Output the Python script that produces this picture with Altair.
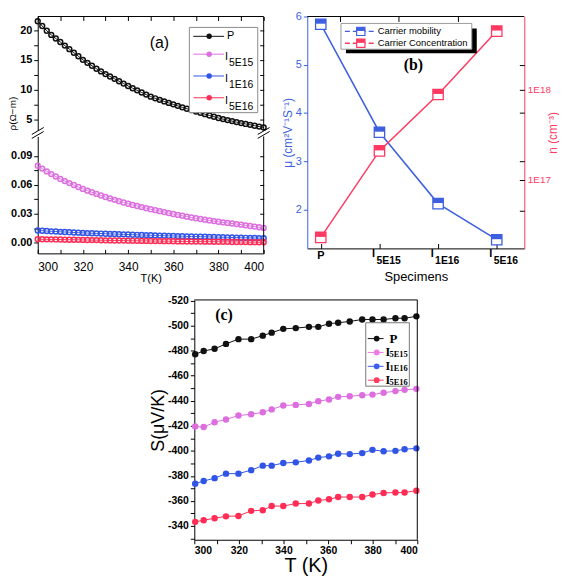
import altair as alt
import pandas as pd

# ---------------- data ----------------
# panel (a): resistivity vs temperature
T_a = list(range(300, 401, 2))
rho_P = [21.5, 20.7, 19.9, 19.2, 18.6, 18.0, 17.4, 16.8, 16.2, 15.6,
         15.0, 14.5, 14.0, 13.5, 13.05, 12.6, 12.2, 11.8, 11.4, 11.0,
         10.6, 10.22, 9.86, 9.5, 9.15, 8.8, 8.52, 8.26, 8.0, 7.75,
         7.5, 7.25, 7.0, 6.76, 6.53, 6.3, 6.07, 5.85, 5.63, 5.41,
         5.2, 5.02, 4.85, 4.68, 4.51, 4.35, 4.2, 4.05, 3.9, 3.75, 3.6]
rho_5E15 = [0.0797, 0.0767, 0.0738, 0.0710, 0.0685, 0.0660, 0.0638, 0.0617, 0.0597, 0.0577,
            0.0557, 0.0539, 0.0522, 0.0505, 0.0489, 0.0473, 0.0458, 0.0444, 0.0430, 0.0416,
            0.0403, 0.0391, 0.0380, 0.0369, 0.0358, 0.0347, 0.0337, 0.0327, 0.0317, 0.0307,
            0.0297, 0.0288, 0.0279, 0.0270, 0.0261, 0.0253, 0.0246, 0.0239, 0.0231, 0.0224,
            0.0217, 0.0211, 0.0205, 0.0199, 0.0193, 0.0187, 0.0180, 0.0173, 0.0167, 0.0160, 0.0153]
rho_1E16 = [0.0127, 0.0124, 0.0121, 0.0118, 0.0116, 0.0113, 0.0111, 0.0109, 0.0106, 0.0104,
            0.0102, 0.0100, 0.0098, 0.0097, 0.0095, 0.0093, 0.0091, 0.0090, 0.0088, 0.0087,
            0.0085, 0.0083, 0.0082, 0.0080, 0.0079, 0.0077, 0.0076, 0.0074, 0.0073, 0.0071,
            0.0070, 0.0069, 0.0068, 0.0066, 0.0065, 0.0064, 0.0063, 0.0062, 0.0060, 0.0059,
            0.0058, 0.0057, 0.0056, 0.0054, 0.0053, 0.0052, 0.0051, 0.0050, 0.0049, 0.0048, 0.0047]
rho_5E16 = [0.0037, 0.0036, 0.0035, 0.0035, 0.0034, 0.0033, 0.0032, 0.0031, 0.0031, 0.0030,
            0.0029, 0.0028, 0.0027, 0.0027, 0.0026, 0.0025, 0.0024, 0.0023, 0.0023, 0.0022,
            0.0021, 0.0020, 0.0020, 0.0019, 0.0019, 0.0018, 0.0017, 0.0017, 0.0016, 0.0016,
            0.0015, 0.0014, 0.0014, 0.0013, 0.0013, 0.0012, 0.0012, 0.0011, 0.0011, 0.0010,
            0.0010, 0.0009, 0.0009, 0.0008, 0.0008, 0.0007, 0.0007, 0.0006, 0.0006, 0.0005, 0.0005]

# panel (b): mobility and carrier concentration per specimen
spec_idx = [0, 1, 2, 3]
spec_main = ["P", "I", "I", "I"]
spec_sub = ["", "5E15", "1E16", "5E16"]
mobility = [5.84, 3.60, 2.12, 1.37]
concentration = [2.3e16, 2.1e17, 8.9e17, 4.5e18]

# panel (c): Seebeck coefficient vs temperature
T_c = [300.4, 304.2, 309.1, 314.2, 319.8, 325.5, 330.7, 334.7, 339.9, 345.5, 351.4,
       355.6, 360.4, 364.5, 369.7, 375.3, 379.9, 384.9, 390.2, 394.3, 399.6]
S_P = [-477.2, -479.7, -481.5, -485.4, -489.2, -489.2, -492.0, -494.4, -497.4, -498.0, -499.0,
       -499.0, -501.5, -502.3, -503.3, -504.9, -504.9, -504.9, -505.9, -505.9, -507.4]
S_5E15 = [-419.5, -419.0, -422.8, -425.1, -428.2, -429.2, -430.8, -433.1, -436.2, -436.7, -437.4,
          -439.7, -441.0, -443.1, -443.6, -444.4, -444.9, -446.4, -447.7, -448.7, -449.5]
S_1E16 = [-373.8, -375.9, -378.2, -381.8, -381.8, -384.6, -388.2, -388.2, -390.3, -390.8, -392.3,
          -394.6, -395.6, -397.7, -397.4, -398.2, -400.8, -399.7, -400.0, -401.3, -402.0]
S_5E16 = [-343.3, -344.6, -346.2, -347.7, -348.0, -352.1, -352.6, -355.9, -355.9, -357.9, -357.9,
          -360.3, -361.3, -363.1, -363.1, -363.1, -365.1, -366.4, -366.7, -366.7, -368.2]

series_names = ["P", "I5E15", "I1E16", "I5E16"]

# ---------------- style ----------------
FONT = "Liberation Sans"
SERIF = "Liberation Serif"
A_COLORS = ["#111111", "#dd6ee0", "#3055e6", "#ff2d55"]
B_BLUE = "#3d5fe0"
B_RED = "#ff3a62"
C_COLORS = ["#111111", "#ee7ae6", "#3d5ef2", "#ff3c5d"]

one = pd.DataFrame({"d": [0]})


def rule(x, y, x2, y2, color="black", sw=1.0, dash=None, opacity=1):
    kw = dict(color=color, strokeWidth=sw, opacity=opacity)
    if dash:
        kw["strokeDash"] = dash
    return alt.Chart(one).mark_rule(**kw).encode(
        x=alt.value(x), y=alt.value(y), x2=alt.value(x2), y2=alt.value(y2))


def rect(x, y, x2, y2, fill, stroke=None, sw=1.0):
    kw = dict(fill=fill, opacity=1)
    if stroke:
        kw.update(stroke=stroke, strokeWidth=sw)
    return alt.Chart(one).mark_rect(**kw).encode(
        x=alt.value(x), y=alt.value(y), x2=alt.value(x2), y2=alt.value(y2))


def text(x, y, s, size=11, font=FONT, weight="normal", color="black",
         align="left", baseline="middle", angle=0):
    kw = dict(text=s, fontSize=size, font=font, fontWeight=weight, color=color,
              align=align, baseline=baseline)
    if angle:
        kw["angle"] = angle
    return alt.Chart(one).mark_text(**kw).encode(x=alt.value(x), y=alt.value(y))


def dot(x, y, color, size=30, filled=True, shape="circle", sw=1.0):
    return alt.Chart(one).mark_point(shape=shape, filled=filled, color=color, size=size,
                                     opacity=1, strokeWidth=sw).encode(
        x=alt.value(x), y=alt.value(y))


HALF = "M -1 -1 L 1 -1 L 1 -0.1 L -1 -0.1 Z"

# ================= panel (a) =================
W_A, H_AU, H_AL = 228, 115, 118
sx_a = alt.Scale(domain=[300, 400], nice=False, zero=False)
sy_au = alt.Scale(domain=[3.1, 22.3], nice=False, zero=False)
sy_al = alt.Scale(domain=[-0.011, 0.11], nice=False, zero=False)

df_au = pd.DataFrame({"T": T_a, "rho": rho_P})
df_al = pd.DataFrame({
    "T": T_a * 3,
    "rho": rho_5E15 + rho_1E16 + rho_5E16,
    "s": ["I5E15"] * len(T_a) + ["I1E16"] * len(T_a) + ["I5E16"] * len(T_a),
})
col_a = alt.Color("s:N", scale=alt.Scale(domain=series_names, range=A_COLORS), legend=None)

up_line = alt.Chart(df_au).mark_line(color=A_COLORS[0], strokeWidth=1).encode(
    x=alt.X("T:Q", scale=sx_a, axis=None),
    y=alt.Y("rho:Q", scale=sy_au, axis=alt.Axis(
        orient="left", values=[5, 7.5, 10, 12.5, 15, 17.5, 20], tickSize=4,
        labelExpr="datum.value % 5 == 0 ? '' + datum.value : ''",
        labelFontWeight="bold", labelFontSize=11, labelPadding=2, title=None)))
up_pts = alt.Chart(df_au).mark_point(color=A_COLORS[0], filled=False, size=24,
                                     strokeWidth=1.5, opacity=1).encode(
    x=alt.X("T:Q", scale=sx_a, axis=None),
    y=alt.Y("rho:Q", scale=sy_au, axis=None))
up_ticks = alt.Chart(df_au).mark_point(opacity=0).encode(
    x=alt.X("T:Q", scale=sx_a, axis=alt.Axis(
        orient="top", offset=-4, tickSize=4, values=list(range(300, 401, 10)),
        labels=False, domain=False, title=None)),
    y=alt.Y("rho:Q", scale=sy_au, axis=alt.Axis(
        orient="right", offset=-4, tickSize=4, values=[5, 7.5, 10, 12.5, 15, 17.5, 20],
        labels=False, domain=False, title=None)))

leg_a = [rect(153, 11, 222, 97, "white", "#8a8a8a", 1)]
rows_a = [20, 38, 60, 82]
for i, yy in enumerate(rows_a):
    leg_a.append(rule(157, yy, 188, yy, A_COLORS[i], 1))
    leg_a.append(dot(173, yy, A_COLORS[i], size=30))
leg_a.append(text(191, 20, "P", size=11))
for i, sub in zip([1, 2, 3], ["5E15", "1E16", "5E16"]):
    leg_a.append(text(189, rows_a[i] + 3, "I", size=11))
    leg_a.append(text(193, rows_a[i] + 9, sub, size=10.5))

a_up = alt.layer(
    up_line, up_pts, up_ticks,
    rule(0, 0, W_A, 0), rule(W_A, 0, W_A, H_AU),
    rule(0, -6, 2, -6, "white", 1, opacity=0),
    *leg_a,
    text(113, 27, "(a)", size=16),
    text(-25, 98, "ρ(Ω−m)", size=10, angle=270, align="center"),
).resolve_axis(x="independent", y="independent").properties(width=W_A, height=H_AU)

lo_line = alt.Chart(df_al).mark_line(strokeWidth=1).encode(
    x=alt.X("T:Q", scale=sx_a, axis=alt.Axis(
        orient="bottom", values=list(range(300, 401, 20)), ticks=False,
        labelFontSize=12, labelPadding=8, title="T(K)", titleFontSize=11,
        titleFontWeight="normal", titlePadding=0)),
    y=alt.Y("rho:Q", scale=sy_al, axis=alt.Axis(
        orient="left", values=[0, 0.015, 0.03, 0.045, 0.06, 0.075, 0.09], tickSize=4,
        labelExpr="indexof(['0','0.03','0.06','0.09'], '' + datum.value) >= 0 ? format(datum.value, '.2f') : ''",
        labelFontWeight="bold", labelFontSize=11, labelPadding=2, title=None)),
    color=col_a, detail="s:N")
lo_pts = alt.Chart(df_al).mark_point(filled=False, size=24, strokeWidth=1.5, opacity=1).encode(
    x=alt.X("T:Q", scale=sx_a, axis=None),
    y=alt.Y("rho:Q", scale=sy_al, axis=None),
    color=col_a)
lo_ticks = alt.Chart(df_al).mark_point(opacity=0).encode(
    x=alt.X("T:Q", scale=sx_a, axis=alt.Axis(
        orient="bottom", offset=-4, tickSize=4, values=list(range(300, 401, 10)),
        labels=False, domain=False, title=None)),
    y=alt.Y("rho:Q", scale=sy_al, axis=alt.Axis(
        orient="right", offset=-4, tickSize=4, values=[0, 0.015, 0.03, 0.045, 0.06, 0.075, 0.09],
        labels=False, domain=False, title=None)))

a_low = alt.layer(
    lo_line, lo_pts, lo_ticks,
    rule(W_A, 0, W_A, H_AL),
    rule(-6, 2, 6, -5), rule(-6, -2, 6, -9),
    rule(W_A - 6, 2, W_A + 6, -5), rule(W_A - 6, -2, W_A + 6, -9),
).resolve_axis(x="independent", y="independent").properties(width=W_A, height=H_AL)

panel_a = alt.vconcat(a_up, a_low, spacing=6, bounds="flush")

# ================= panel (b) =================
W_B, H_B = 219, 234
sx_b = alt.Scale(domain=[-0.23, 3.47], nice=False, zero=False)
sy_mu = alt.Scale(domain=[1.19, 6.0], nice=False, zero=False)
sy_n = alt.Scale(type="log", domain=[10 ** 16.24, 10 ** 18.815], nice=False)
df_b = pd.DataFrame({"idx": spec_idx, "mu": mobility, "n": concentration,
                     "main": spec_main, "sub": spec_sub})

b_mu_line = alt.Chart(df_b).mark_line(color=B_BLUE, strokeWidth=1.5).encode(
    x=alt.X("idx:Q", scale=sx_b, axis=alt.Axis(
        orient="bottom", values=[0, 1, 2, 3], ticks=False, labels=False,
        title="Specimens", titleFontSize=13, titleFontWeight="normal", titlePadding=22)),
    y=alt.Y("mu:Q", scale=sy_mu, axis=alt.Axis(
        orient="left", values=[2, 3, 4, 5, 6], tickSize=4, labelFontSize=11,
        labelColor=B_BLUE, tickColor=B_BLUE, domainColor=B_BLUE, labelPadding=2,
        title="μ (cm²V⁻¹S⁻¹)", titleColor=B_BLUE, titleFontSize=12,
        titleFontWeight="normal", titlePadding=1)))
b_mu_sq = alt.Chart(df_b).mark_square(fill="white", stroke=B_BLUE, strokeWidth=1.3,
                                      size=110, opacity=1).encode(
    x=alt.X("idx:Q", scale=sx_b, axis=None), y=alt.Y("mu:Q", scale=sy_mu, axis=None))
b_mu_half = alt.Chart(df_b).mark_point(shape=HALF, filled=True, color=B_BLUE,
                                       size=110, opacity=1).encode(
    x=alt.X("idx:Q", scale=sx_b, axis=None), y=alt.Y("mu:Q", scale=sy_mu, axis=None))

b_n_line = alt.Chart(df_b).mark_line(color=B_RED, strokeWidth=1.5).encode(
    x=alt.X("idx:Q", scale=sx_b, axis=None),
    y=alt.Y("n:Q", scale=sy_n, axis=alt.Axis(
        orient="right", values=[1e17, 1e18], ticks=False,
        labelExpr="datum.value > 5e17 ? '1E18' : '1E17'", labelFontSize=10,
        labelColor=B_RED, domainColor=B_RED, labelPadding=3,
        title="n (cm⁻³)", titleAngle=270, titleColor=B_RED, titleFontSize=12,
        titleFontWeight="normal", titlePadding=9)))
b_n_sq = alt.Chart(df_b).mark_square(fill="white", stroke=B_RED, strokeWidth=1.3,
                                     size=110, opacity=1).encode(
    x=alt.X("idx:Q", scale=sx_b, axis=None), y=alt.Y("n:Q", scale=sy_n, axis=None))
b_n_half = alt.Chart(df_b).mark_point(shape=HALF, filled=True, color=B_RED,
                                      size=110, opacity=1).encode(
    x=alt.X("idx:Q", scale=sx_b, axis=None), y=alt.Y("n:Q", scale=sy_n, axis=None))

n_tick_vals = [4.5e16, 1e17, 1.6e17, 5.6e17, 1e18, 1.87e18]
b_tk1 = alt.Chart(df_b).mark_point(opacity=0).encode(
    x=alt.X("idx:Q", scale=sx_b, axis=alt.Axis(
        orient="top", offset=-5, tickSize=5, values=[0.335, 1.33, 2.33],
        labels=False, domain=False, title=None)),
    y=alt.Y("n:Q", scale=sy_n, axis=alt.Axis(
        orient="right", offset=-5, tickSize=5, values=n_tick_vals,
        labels=False, domain=False, title=None)))
b_tk2 = alt.Chart(df_b).mark_point(opacity=0).encode(
    x=alt.X("idx:Q", scale=sx_b, axis=alt.Axis(
        orient="bottom", offset=-5, tickSize=5, values=[0, 1, 2, 3],
        labels=False, domain=False, title=None)))

b_lab_p = alt.Chart(df_b).transform_filter("datum.sub == ''").mark_text(
    font=FONT, fontWeight="bold", fontSize=11, align="center", baseline="middle").encode(
    x=alt.X("idx:Q", scale=sx_b, axis=None), y=alt.value(H_B + 8), text="main:N")
b_lab_i = alt.Chart(df_b).transform_filter("datum.sub != ''").mark_text(
    font=FONT, fontWeight="bold", fontSize=11, align="center", baseline="middle", dx=-6).encode(
    x=alt.X("idx:Q", scale=sx_b, axis=None), y=alt.value(H_B + 6), text="main:N")
b_lab_s = alt.Chart(df_b).transform_filter("datum.sub != ''").mark_text(
    font=FONT, fontWeight="bold", fontSize=10.5, align="left", baseline="middle", dx=-3).encode(
    x=alt.X("idx:Q", scale=sx_b, axis=None), y=alt.value(H_B + 13), text="sub:N")

leg_b = [
    rect(39, 12, 171, 37, "black"),
    rect(34, 7, 166, 33, "white", "#9a9a9a", 1),
    rule(38, 15, 70, 15, B_BLUE, 1.5, [5, 3]),
    rule(38, 27, 70, 27, B_RED, 1.5, [5, 3]),
    alt.Chart(one).mark_square(fill="white", stroke=B_BLUE, strokeWidth=1.2, size=70, opacity=1).encode(
        x=alt.value(54), y=alt.value(15)),
    dot(54, 15, B_BLUE, size=70, shape=HALF),
    alt.Chart(one).mark_square(fill="white", stroke=B_RED, strokeWidth=1.2, size=70, opacity=1).encode(
        x=alt.value(54), y=alt.value(27)),
    dot(54, 27, B_RED, size=70, shape=HALF),
    text(71, 15, "Carrier mobility", size=9.5),
    text(71, 27, "Carrier Concentration", size=9.5),
]

panel_b = alt.layer(
    b_mu_line, b_n_line, b_mu_sq, b_mu_half, b_n_sq, b_n_half, b_tk1, b_tk2,
    b_lab_p, b_lab_i, b_lab_s,
    rule(0, 0, W_B, 0),
    *leg_b,
    text(107, 49, "(b)", size=16, font=SERIF, weight="bold", align="center"),
).resolve_scale(y="independent").resolve_axis(x="independent", y="independent").properties(
    width=W_B, height=H_B)

# ================= panel (c) =================
W_C, H_C = 225, 242
sx_c = alt.Scale(domain=[300, 400], nice=False, zero=False)
sy_c = alt.Scale(domain=[-520.5, -329], reverse=True, nice=False, zero=False)
df_c = pd.DataFrame({
    "T": T_c * 4,
    "S": S_P + S_5E15 + S_1E16 + S_5E16,
    "s": sum([[n] * len(T_c) for n in series_names], []),
})
col_c = alt.Color("s:N", scale=alt.Scale(domain=series_names, range=C_COLORS), legend=None)

c_line = alt.Chart(df_c).mark_line(strokeWidth=1).encode(
    x=alt.X("T:Q", scale=sx_c, axis=alt.Axis(
        orient="bottom", values=list(range(300, 401, 10)), tickSize=4,
        labelExpr="datum.value % 20 == 0 ? '' + datum.value : ''",
        labelFontWeight="bold", labelFontSize=10.5, labelPadding=2,
        title="T (K)", titleFontSize=20, titleFontWeight="normal", titlePadding=0)),
    y=alt.Y("S:Q", scale=sy_c, axis=alt.Axis(
        orient="left", values=list(range(-520, -329, 10)), tickSize=4,
        labelExpr="datum.value % 20 == 0 ? '' + datum.value : ''",
        labelFontWeight="bold", labelFontSize=10.5, labelPadding=2,
        title="S(μV/K)", titleFontSize=18, titleFontWeight="normal", titlePadding=0)),
    color=col_c, detail="s:N")
c_pts = alt.Chart(df_c).mark_circle(size=42, opacity=1).encode(
    x=alt.X("T:Q", scale=sx_c, axis=None),
    y=alt.Y("S:Q", scale=sy_c, axis=None),
    color=col_c)

leg_c = [rect(173, 23, 217, 87, "white", "#777777", 1)]
rows_c = [39, 53, 67, 81]
for i, yy in enumerate(rows_c):
    leg_c.append(rule(175, yy, 191, yy, C_COLORS[i], 1))
    leg_c.append(dot(184, yy, C_COLORS[i], size=34))
leg_c.append(text(201, 39, "P", size=13, font=SERIF, weight="bold", align="center"))
for i, sub in zip([1, 2, 3], ["5E15", "1E16", "5E16"]):
    leg_c.append(text(193, rows_c[i], "I", size=12, font=SERIF, weight="bold"))
    leg_c.append(text(197, rows_c[i] + 2, sub, size=8.5, font=SERIF, weight="bold"))

panel_c = alt.layer(
    c_line, c_pts,
    rule(0, 0, W_C, 0), rule(W_C, 0, W_C, H_C),
    *leg_c,
    text(30, 15, "(c)", size=16, font=SERIF, weight="bold", align="center"),
).resolve_axis(x="independent", y="independent").properties(width=W_C, height=H_C)

spacer = alt.Chart(one).mark_point(opacity=0).encode(
    x=alt.value(0), y=alt.value(0)).properties(width=92, height=10)

top = alt.hconcat(panel_a, panel_b, spacing=10)
bottom = alt.hconcat(spacer, panel_c, spacing=20)

chart = alt.vconcat(top, bottom, spacing=12).properties(padding=0).configure_view(
    stroke=None).configure_axis(
    grid=False, labelFont=FONT, titleFont=FONT, labelColor="black",
    domainColor="black", tickColor="black", titleColor="black")

chart.save("out.html", embed_options={"renderer": "svg", "actions": False})
